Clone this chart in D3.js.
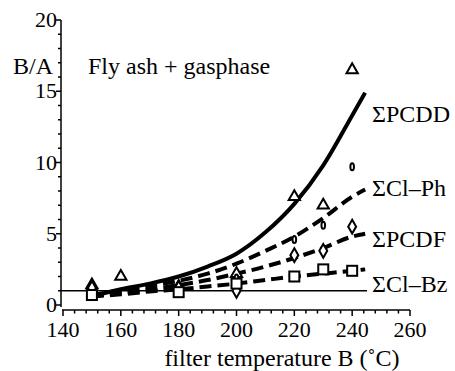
<!DOCTYPE html>
<html>
<head>
<meta charset="utf-8">
<title>B/A vs filter temperature</title>
</head>
<body style="margin:0; background:#fff">
<svg width="455" height="371"></svg>
<script src="https://d3js.org/d3.v7.min.js"></script>
<script>
// fitted curves
const curveT = [150, 160, 170, 180, 190, 200, 210, 220, 230, 240, 244.5];
const pcddFit = [0.6, 1.1, 1.5, 2.0, 2.7, 3.6, 5.1, 7.1, 9.8, 13.3, 14.9];
const clphFit = [0.7, 1.0, 1.35, 1.7, 2.2, 2.9, 3.8, 4.8, 6.1, 7.6, 8.1];
const pcdfFit = [0.6, 0.85, 1.1, 1.4, 1.75, 2.2, 2.7, 3.3, 4.0, 4.8, 5.0];
const clbzFit = [0.6, 0.75, 0.95, 1.1, 1.3, 1.5, 1.75, 2.0, 2.2, 2.4, 2.5];

// measured points
const pcddPts = [[150, 1.4], [160, 2.0], [180, 1.3], [200, 2.2], [220, 7.6], [230, 7.0], [240, 16.5]];
const clphPts = [[150, 0.9], [180, 1.1], [200, 1.9], [220, 4.6], [230, 5.6], [240, 9.7]];
const pcdfPts = [[150, 1.2], [180, 1.2], [200, 1.0], [220, 3.5], [230, 3.8], [240, 5.5]];
const clbzPts = [[150, 0.7], [180, 0.9], [200, 1.5], [220, 2.0], [230, 2.5], [240, 2.4]];

const seriesNames = ['ΣPCDD', 'ΣCl\u2013Ph', 'ΣPCDF', 'ΣCl\u2013Bz'];
const labelY = [122, 196, 247, 292]; // label baselines

const xTicks = [140, 160, 180, 200, 220, 240, 260];
const yTicks = [0, 5, 10, 15, 20];

const serif = 'Liberation Serif';
var svg = d3.select('svg');

var x = d3.scaleLinear().domain([140, 260]).range([63, 410]);
var y = d3.scaleLinear().domain([0, 20]).range([305, 20]);

// axes
var xAxisY = 310;
svg.append('line').attr('x1', 62).attr('x2', 410).attr('y1', xAxisY).attr('y2', xAxisY)
  .attr('stroke', '#000').attr('stroke-width', 1.5);
svg.append('g').selectAll('line').data(d3.range(140, 261, 4)).join('line')
  .attr('x1', d => x(d)).attr('x2', d => x(d))
  .attr('y1', xAxisY).attr('y2', d => xAxisY + (d % 20 == 0 ? 6 : 3.5))
  .attr('stroke', '#000').attr('stroke-width', 1.5);
svg.append('g').selectAll('text').data(xTicks).join('text')
  .attr('x', d => x(d)).attr('y', 337).attr('text-anchor', 'middle')
  .style('font-family', serif).attr('font-size', 22).text(d => d);

svg.append('line').attr('x1', 61).attr('x2', 61).attr('y1', y(20)).attr('y2', 307)
  .attr('stroke', '#000').attr('stroke-width', 1.5);
svg.append('g').selectAll('line').data(d3.range(0, 21, 1)).join('line')
  .attr('x1', 61).attr('x2', d => 61 - (d % 5 == 0 ? 5 : 3))
  .attr('y1', d => y(d)).attr('y2', d => y(d))
  .attr('stroke', '#000').attr('stroke-width', 1.5);
svg.append('g').selectAll('text').data(yTicks).join('text')
  .attr('x', 57).attr('y', d => y(d) + 7).attr('text-anchor', 'end')
  .style('font-family', serif).attr('font-size', 22).text(d => d);

svg.append('text').attr('x', 13).attr('y', 74).style('font-family', serif)
  .attr('font-size', 24).text('B/A');
svg.append('text').attr('x', 88).attr('y', 74).style('font-family', serif)
  .attr('font-size', 24).text('Fly ash + gasphase');
svg.append('text').attr('x', 282).attr('y', 366).attr('text-anchor', 'middle')
  .style('font-family', serif).attr('font-size', 24).text('filter temperature B (\u02DAC)');

// reference line B/A = 1
svg.append('line').attr('x1', 61).attr('x2', 367).attr('y1', y(1)).attr('y2', y(1))
  .attr('stroke', '#000').attr('stroke-width', 1.3);

// curves
var line = d3.line().x(d => x(d[0])).y(d => y(d[1])).curve(d3.curveMonotoneX);
const fits = [pcddFit, clphFit, pcdfFit, clbzFit];
fits.forEach((f, i) => {
  svg.append('path')
    .attr('d', line(curveT.map((t, j) => [t, f[j]])))
    .attr('fill', 'none').attr('stroke', '#000').attr('stroke-width', 4)
    .attr('stroke-dasharray', i == 0 ? null : '12,6');
});

// markers
var g = svg.append('g').attr('fill', '#fff').attr('stroke', '#000').attr('stroke-width', 2);
g.selectAll('.tri').data(pcddPts).join('path').attr('class', 'tri')
  .attr('d', d3.symbol(d3.symbolTriangle, 55))
  .attr('transform', d => `translate(${x(d[0])},${y(d[1])})`);
g.selectAll('.ov').data(clphPts).join('ellipse').attr('class', 'ov')
  .attr('cx', d => x(d[0])).attr('cy', d => y(d[1])).attr('rx', 1.8).attr('ry', 3.5);
g.selectAll('.dia').data(pcdfPts).join('path').attr('class', 'dia')
  .attr('d', d3.symbol(d3.symbolDiamond, 55))
  .attr('transform', d => `translate(${x(d[0])},${y(d[1])})`);
g.selectAll('.sq').data(clbzPts).join('rect').attr('class', 'sq')
  .attr('x', d => x(d[0]) - 5).attr('y', d => y(d[1]) - 5).attr('width', 10).attr('height', 10);

// series labels
svg.append('g').selectAll('text').data(seriesNames).join('text')
  .attr('x', 372).attr('y', (d, i) => labelY[i])
  .style('font-family', serif).attr('font-size', 24).text(d => d);
</script>
</body>
</html>
